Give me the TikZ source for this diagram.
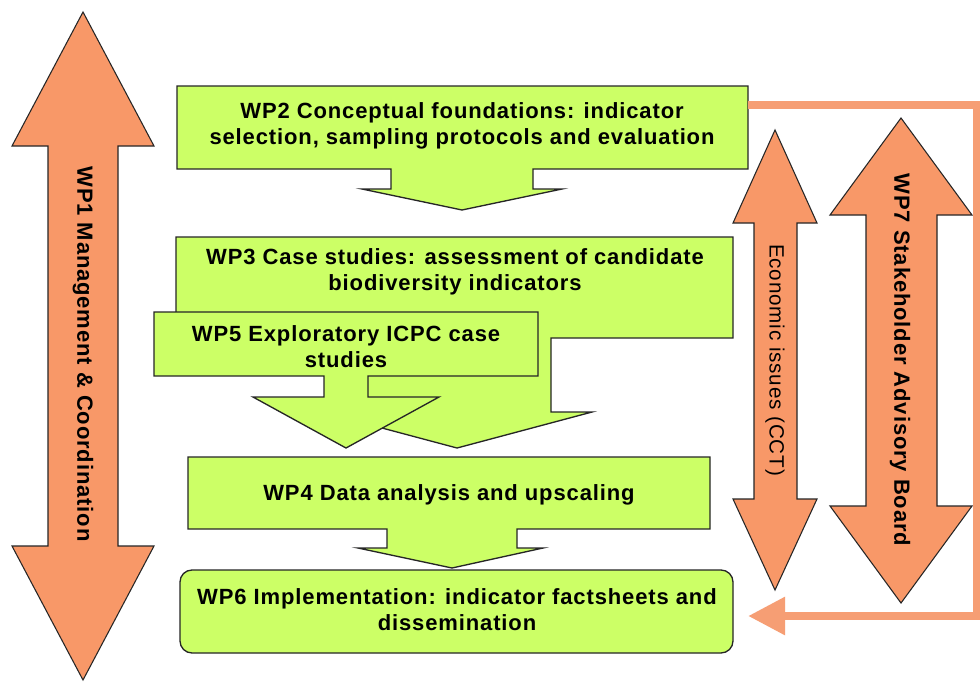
\documentclass[tikz,border=0pt]{standalone}
\usepackage{fontspec}
\setmainfont{Liberation Sans}[LetterSpace=4.0]
\usetikzlibrary{backgrounds,arrows.meta}

\definecolor{wpgreen}{RGB}{204,255,102}
\definecolor{wporange}{RGB}{248,152,104}
\definecolor{wpline}{RGB}{246,158,116}

\begin{document}
\begin{tikzpicture}[x=0.75pt, y=-0.75pt,
    background rectangle/.style={fill=white}, show background rectangle, inner frame sep=0pt,
    callout/.style={fill=wpgreen, draw=black!85, line width=1pt},
    updown/.style={fill=wporange, draw=black!85, line width=0.8pt},
    wplabel/.style={font=\fontsize{16.5}{19.5}\selectfont\bfseries, align=center, inner sep=0pt},
    cctlabel/.style={font=\fontsize{15.5}{18}\selectfont, inner sep=0pt},
    feedback/.style={draw=wpline, line width=6.5pt, -{Triangle[length=27.75pt, width=27pt]}}]
  \useasboundingbox (0,0) rectangle (980,682);
  % Work packages (boxes with down arrows)
  \draw[callout] (177,86) -- (748,86) -- (748,169) -- (533,169) -- (533,189) -- (562,189)
    -- (462,210) -- (362,189) -- (391,189) -- (391,169) -- (177,169) -- cycle;
  \draw[callout] (176,237) -- (733,237) -- (733,338) -- (551,338) -- (551,412) -- (592,412)
    -- (457,448) -- (322,412) -- (363,412) -- (363,338) -- (176,338) -- cycle;
  \draw[callout] (154,312) -- (538,312) -- (538,376) -- (368,376) -- (368,397) -- (439,397)
    -- (346,448) -- (253,397) -- (324,397) -- (324,376) -- (154,376) -- cycle;
  \draw[callout] (188,457) -- (710,457) -- (710,529) -- (517,529) -- (517,548) -- (543,548)
    -- (452,568) -- (358,548) -- (387,548) -- (387,529) -- (188,529) -- cycle;
  \draw[callout, rounded corners=9pt] (180,570) rectangle (733,653);
  % Double arrows
  \draw[updown] (83,12) -- (154,146) -- (118,146) -- (118,546) -- (154,546) -- (83,680)
    -- (12,546) -- (48,546) -- (48,146) -- (12,146) -- cycle;
  \draw[updown] (775,130) -- (817,223) -- (797,223) -- (797,499) -- (817,499) -- (775,590)
    -- (733,499) -- (754,499) -- (754,223) -- (733,223) -- cycle;
  \draw[updown] (901,118) -- (972,215) -- (937,215) -- (937,506) -- (972,506) -- (901,603)
    -- (830,506) -- (866,506) -- (866,215) -- (830,215) -- cycle;
  % Labels
  \node[wplabel] (wp2) at (462,126) {WP2 Conceptual foundations: indicator\\selection, sampling protocols and evaluation};
  \node[wplabel] (wp3) at (455,272) {WP3 Case studies: assessment of candidate\\biodiversity indicators};
  \node[wplabel] (wp5) at (346,347) {WP5 Exploratory ICPC case\\studies};
  \node[wplabel] (wp4) at (449,495) {WP4 Data analysis and upscaling};
  \node[wplabel] (wp6) at (457,610) {WP6 Implementation: indicator factsheets and\\dissemination};
  \node[wplabel, rotate=-90] (wp1) at (83,354) {WP1 Management \& Coordination};
  \node[cctlabel, rotate=-90] (cct) at (775,360) {Economic issues (CCT)};
  \node[wplabel, rotate=-90] (wp7) at (900,360) {WP7 Stakeholder Advisory Board};
  % Feedback from WP7 to WP2 and WP6
  \coordinate (wp2e) at (748,105);
  \coordinate (ne) at (977,105);
  \coordinate (se) at (977,616);
  \coordinate (wp6e) at (748,616);
  \draw[feedback] (wp2e) -- (ne) -- (se) -- (wp6e);
\end{tikzpicture}
\end{document}
